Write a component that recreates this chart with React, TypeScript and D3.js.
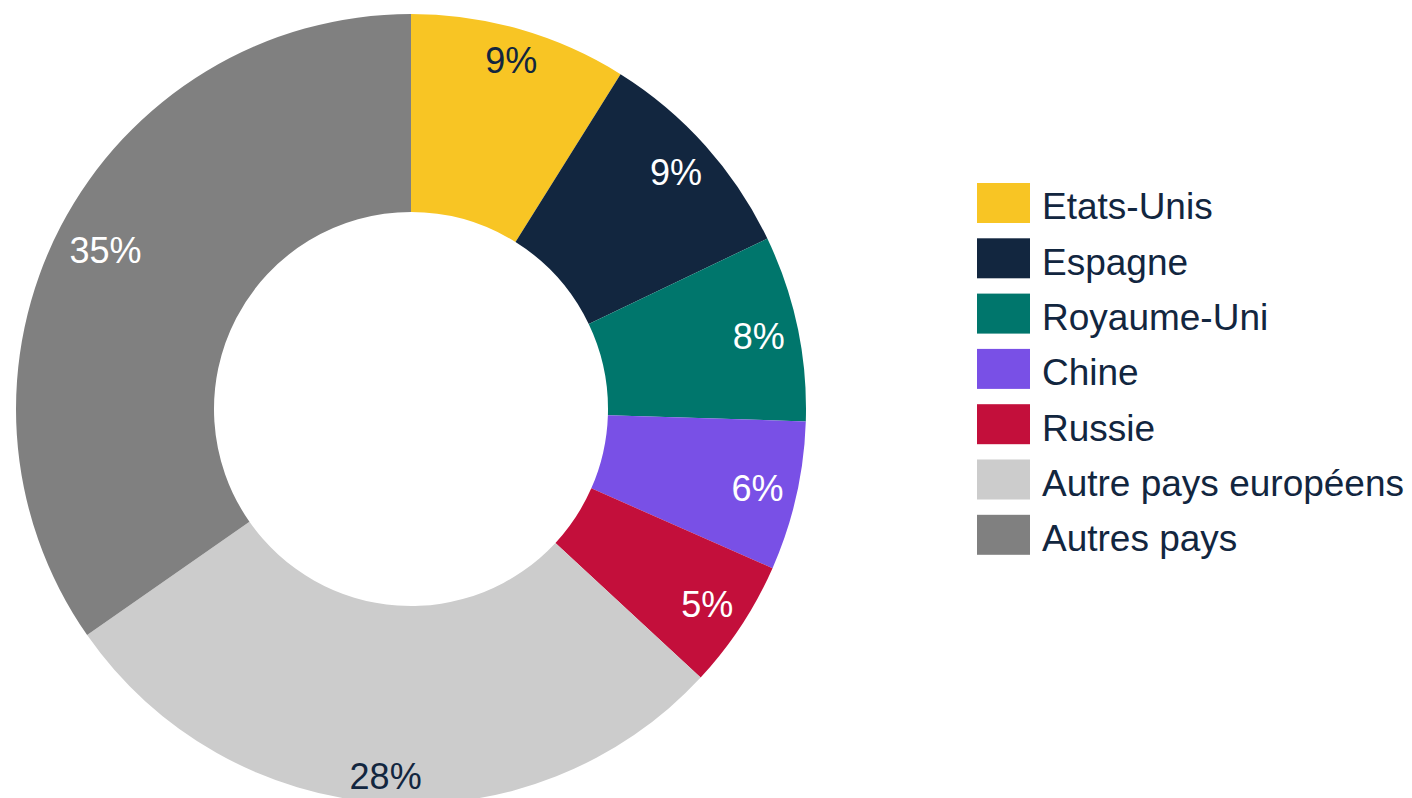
import React from "react";
import * as d3 from "d3";

const categories = ["Etats-Unis", "Espagne", "Royaume-Uni", "Chine", "Russie", "Autre pays européens", "Autres pays"];
const values = [8.9, 9.0, 7.6, 6.1, 5.3, 28.4, 34.7];
const colors = ["#F8C524", "#12263F", "#00766C", "#7950E6", "#C30F3B", "#CCCCCC", "#808080"];
const labelColors = ["#12263F", "#FFFFFF", "#FFFFFF", "#FFFFFF", "#FFFFFF", "#12263F", "#FFFFFF"];

const W = 1412;
const H = 798;
const CX = 411;
const CY = 409;
const R = 395;
const R_IN = 197;
const LABEL_FS = 36;
const LEGEND_FS = 37;
const TEXT_COLOR = "#12263F";
const FONT = "'Liberation Sans', Arial, Helvetica, sans-serif";

export default function App() {
  const data = categories.map((c, i) => ({ name: c, value: values[i], color: colors[i], lc: labelColors[i] }));
  const pie = d3.pie<any>().sort(null).value((d: any) => d.value).startAngle(0).endAngle(2 * Math.PI);
  const arcs = pie(data);
  const arc = d3.arc<any>().innerRadius(R_IN).outerRadius(R);

  const legendX = 977;
  const legendY0 = 183;
  const legendStep = 55.3;
  const sqW = 53;
  const sqH = 40;

  return (
    <svg width={W} height={H} style={{ position: "absolute", left: 0, top: 0, overflow: "hidden" }}>
      <rect x={0} y={0} width={W} height={H} fill="#FFFFFF" />
      <g transform={`translate(${CX},${CY})`}>
        {arcs.map((a, i) => (
          <path key={i} d={arc(a) as string} fill={a.data.color} />
        ))}
        {arcs.map((a, i) => {
          const mid = (a.startAngle + a.endAngle) / 2;
          const label = Math.round(a.data.value) + "%";
          const hw = (label.length === 2 ? 51 : 73) / 2;
          const hh = 13;
          const extent = Math.abs(hw * Math.sin(mid)) + Math.abs(hh * Math.cos(mid));
          const r = R - 12 - extent;
          const x = r * Math.sin(mid);
          const y = -r * Math.cos(mid);
          return (
            <text
              key={"l" + i}
              x={x}
              y={y + 0.36 * LABEL_FS}
              textAnchor="middle"
              fontFamily={FONT}
              fontSize={LABEL_FS}
              fill={a.data.lc}
            >
              {label}
            </text>
          );
        })}
      </g>
      <g>
        {data.map((d, i) => {
          const y = legendY0 + i * legendStep;
          return (
            <g key={"lg" + i}>
              <rect x={legendX} y={y} width={sqW} height={sqH} fill={d.color} />
              <text x={1042} y={y + 36.3} fontFamily={FONT} fontSize={LEGEND_FS} fill={TEXT_COLOR}>
                {d.name}
              </text>
            </g>
          );
        })}
      </g>
    </svg>
  );
}
